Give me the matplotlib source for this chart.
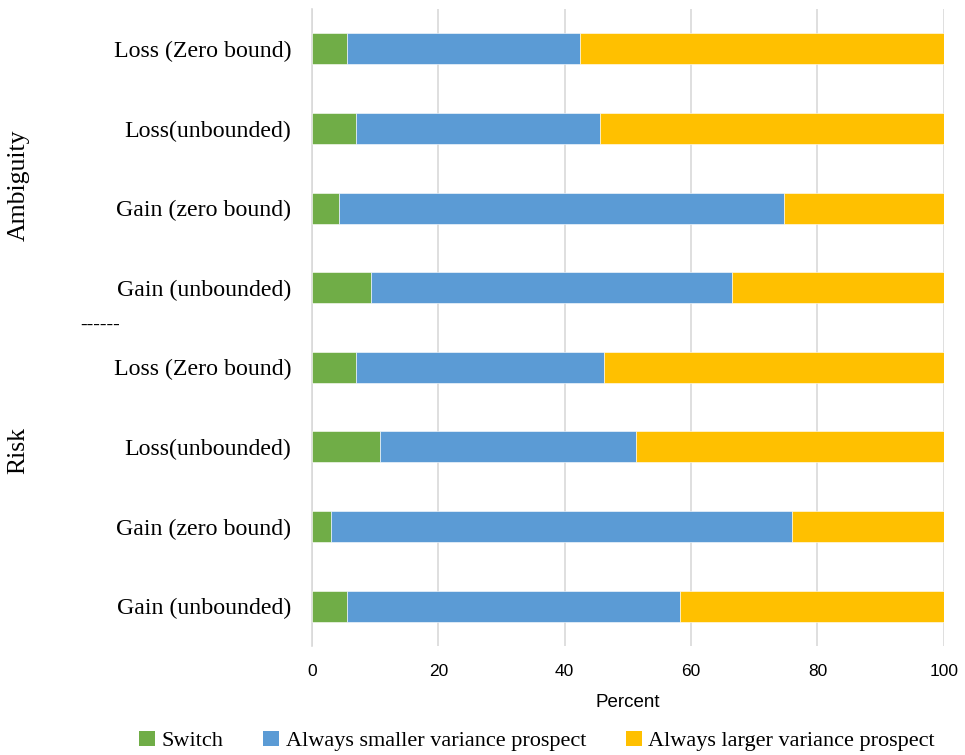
import numpy as np
import matplotlib.pyplot as plt
from matplotlib.patches import Patch

# bottom to top
labels = ['Gain (unbounded)', 'Gain (zero bound)', 'Loss(unbounded)', 'Loss (Zero bound)',
          'Gain (unbounded)', 'Gain (zero bound)', 'Loss(unbounded)', 'Loss (Zero bound)']
switch = np.array([5.6, 3.0, 10.7, 6.9, 9.4, 4.3, 6.9, 5.6])
smaller = np.array([52.7, 72.9, 40.6, 39.3, 57.1, 70.4, 38.7, 36.8])
larger = 100 - switch - smaller

c_green = '#70AD47'
c_blue = '#5B9BD5'
c_yellow = '#FFC000'
serif = 'Liberation Serif'
sans = 'Liberation Sans'

fig = plt.figure(figsize=(9.65, 7.55), dpi=100)
ax = fig.add_axes([0.3233, 0.1444, 0.6547, 0.8436])

y = np.arange(len(labels))
h = 0.39
ax.barh(y, switch, height=h, color=c_green, edgecolor='white', linewidth=0.4, label='Switch', zorder=3)
ax.barh(y, smaller, left=switch, height=h, color=c_blue, edgecolor='white', linewidth=0.4,
        label='Always smaller variance prospect', zorder=3)
ax.barh(y, larger, left=switch + smaller, height=h, color=c_yellow, edgecolor='white', linewidth=0.4,
        label='Always larger variance prospect', zorder=3)

ax.set_xlim(0, 100)
ax.set_ylim(-0.5, len(labels) - 0.5)
ax.set_xticks([0, 20, 40, 60, 80, 100])
ax.set_yticks(y)
ax.set_yticklabels(labels, fontsize=17.2, family=serif)
for t in ax.get_xticklabels():
    t.set_fontsize(12.5)
    t.set_family(sans)
ax.tick_params(axis='both', length=0)
ax.tick_params(axis='y', pad=15)
ax.tick_params(axis='x', pad=13)
ax.grid(axis='x', color='#D9D9D9', linewidth=1.2, zorder=0)
for s in ['top', 'right', 'bottom']:
    ax.spines[s].set_visible(False)
ax.spines['left'].set_color('#D9D9D9')
ax.spines['left'].set_linewidth(1.2)

ax.set_xlabel('Percent', fontsize=13.5, family=sans, labelpad=11)

fig.text(0.019, 1 - 185 / 755, 'Ambiguity', rotation=90, fontsize=18.5, family=serif, va='center', ha='center')
fig.text(0.019, 1 - 450 / 755, 'Risk', rotation=90, fontsize=18.5, family=serif, va='center', ha='center')
fig.text(100 / 965, 1 - 325 / 755, '------', fontsize=14, family=serif, va='center', ha='center')

handles = [Patch(facecolor=c_green, linewidth=0), Patch(facecolor=c_blue, linewidth=0),
           Patch(facecolor=c_yellow, linewidth=0)]
names = ['Switch', 'Always smaller variance prospect', 'Always larger variance prospect']
fig.legend(handles, names, loc='center', bbox_to_anchor=(0.5566, 1 - 741 / 755), ncol=3, frameon=False,
           prop={'family': serif, 'size': 16}, handlelength=0.7, handleheight=0.7,
           handletextpad=0.3, columnspacing=1.8)

fig.savefig('out.png', dpi=100)
